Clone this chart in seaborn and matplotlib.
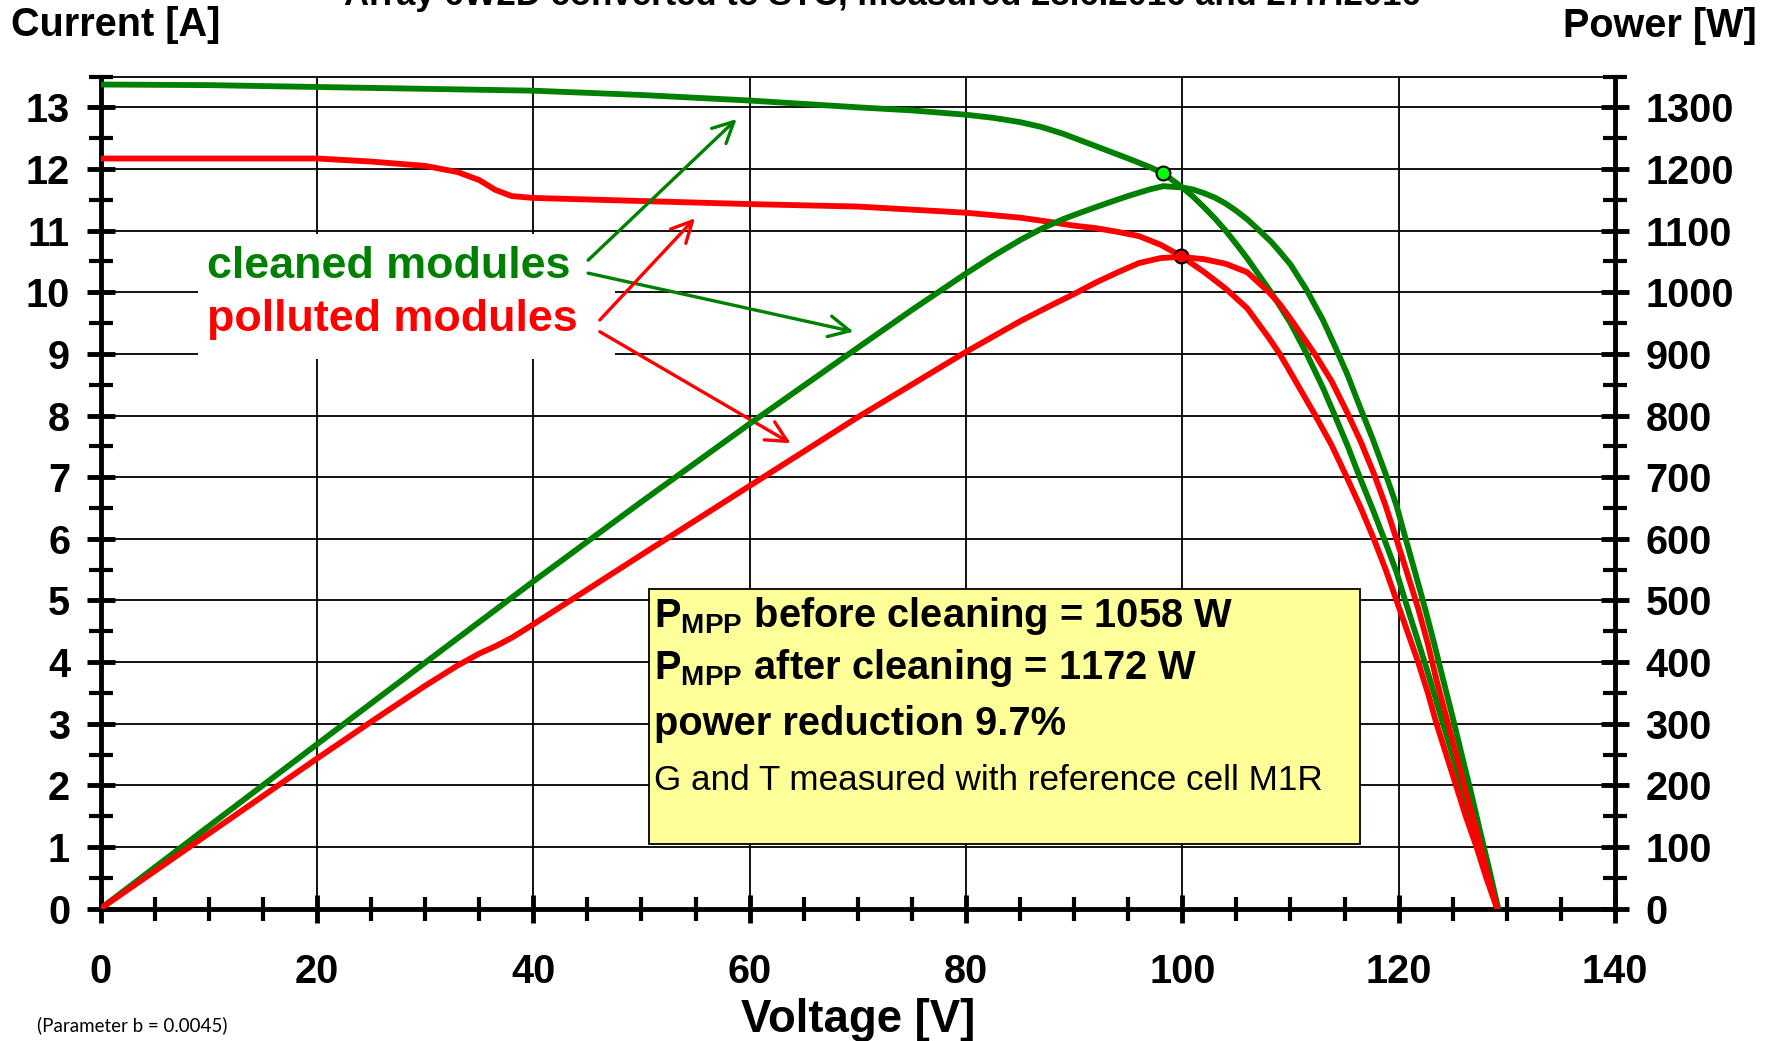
import numpy as np
import matplotlib
matplotlib.use("Agg")
import matplotlib.pyplot as plt
import seaborn as sns
from matplotlib.patches import Rectangle
from matplotlib.ticker import MultipleLocator

# cleaned modules: I-V curve (V, A)
v_clean = np.array([0, 10, 20, 30, 40, 50, 60, 70, 75, 80, 82.5, 85, 87, 89, 90.5, 92, 93.5,
                    95, 96, 97, 98.25, 99, 100, 101, 102, 103, 104, 105, 106, 107, 108.2,
                    109, 110, 111.5, 113, 114.1, 115.3, 116.4, 117.6, 118.7, 119.8, 120.6,
                    121.5, 122.4, 123.3, 124.1, 125, 125.8, 126.7, 127.5, 128.4, 129.2])
i_clean = np.array([13.37, 13.36, 13.33, 13.30, 13.27, 13.20, 13.11, 13.00, 12.95, 12.88,
                    12.83, 12.76, 12.68, 12.57, 12.47, 12.37, 12.27, 12.17, 12.10, 12.03,
                    11.93, 11.83, 11.70, 11.55, 11.38, 11.20, 11.00, 10.78, 10.55, 10.30,
                    10.00, 9.78, 9.50, 9.00, 8.45, 8.00, 7.50, 7.00, 6.48, 5.98, 5.46,
                    5.00, 4.50, 4.00, 3.48, 3.00, 2.48, 2.00, 1.48, 1.00, 0.48, 0.00])

# polluted modules
v_poll = np.array([0, 10, 20, 25, 30, 33, 35, 36.5, 38, 40, 50, 60, 70, 80, 85, 87.8, 90, 92,
                   94, 96, 98, 99.85, 102, 104, 106, 108, 109, 110, 112.3, 113.8, 115.2,
                   116.5, 117.7, 118.8, 119.8, 120.8, 121.8, 122.7, 123.5, 124.4, 125.3,
                   126.2, 127.2, 128.1, 129.1])
i_poll = np.array([12.17, 12.17, 12.17, 12.12, 12.05, 11.95, 11.82, 11.66, 11.56, 11.53,
                   11.48, 11.43, 11.39, 11.29, 11.21, 11.14, 11.08, 11.04, 10.98, 10.91,
                   10.77, 10.59, 10.33, 10.06, 9.74, 9.26, 9.00, 8.70, 8.00, 7.52, 7.00,
                   6.50, 6.00, 5.50, 5.00, 4.50, 4.00, 3.50, 3.00, 2.50, 2.00, 1.50, 1.00,
                   0.50, 0.00])

# power curves are the product of the measured voltage and current
p_clean = v_clean * i_clean
p_poll = v_poll * i_poll

box_lines = [r"P$_{MPP}$ before cleaning = 1058 W",
             r"P$_{MPP}$ after cleaning = 1172 W",
             "power reduction 9.7%",
             "G and T measured with reference cell M1R"]

GREEN = "#008000"
RED = "#ff0000"

sns.set_theme(style="white", rc={
    "axes.edgecolor": "black", "text.color": "black", "axes.labelcolor": "black",
    "xtick.color": "black", "ytick.color": "black",
})
plt.rcParams["font.family"] = ["Liberation Sans", "DejaVu Sans"]
plt.rcParams["font.weight"] = "bold"
plt.rcParams["mathtext.fontset"] = "custom"
plt.rcParams["mathtext.rm"] = "Liberation Sans:bold"
plt.rcParams["mathtext.bf"] = "Liberation Sans:bold"
plt.rcParams["mathtext.default"] = "bf"

fig = plt.figure(figsize=(17.72, 10.41), dpi=100)
ax = fig.add_axes([0.05677, 0.12718, 0.85463, 0.79933])
ax2 = ax.twinx()

# curves
sns.lineplot(x=v_clean, y=i_clean, ax=ax, color=GREEN, lw=4.2, sort=False, estimator=None, zorder=3)
sns.lineplot(x=v_poll, y=i_poll, ax=ax, color=RED, lw=4.2, sort=False, estimator=None, zorder=3)
k_c = int(np.argmax(p_clean))
k_p = int(np.argmax(p_poll))
ax.plot(v_clean[k_c], i_clean[k_c], "o", ms=10, mfc="#00ff00", mec="black", mew=1.5, zorder=6)
ax.plot(v_poll[k_p], i_poll[k_p], "o", ms=10, mfc=RED, mec="black", mew=1.5, zorder=6)

sns.lineplot(x=v_clean, y=p_clean, ax=ax2, color=GREEN, lw=4.2, sort=False, estimator=None)
sns.lineplot(x=v_poll, y=p_poll, ax=ax2, color=RED, lw=4.2, sort=False, estimator=None)

# axes
ax.set_xlim(0, 140)
ax.set_ylim(0, 13.5)
ax2.set_ylim(0, 1350)
ax.set_xlabel("")
ax.set_ylabel("")
ax2.set_ylabel("")
ax.xaxis.set_major_locator(MultipleLocator(20))
ax.xaxis.set_minor_locator(MultipleLocator(5))
ax.yaxis.set_major_locator(MultipleLocator(1))
ax.yaxis.set_minor_locator(MultipleLocator(0.5))
ax2.yaxis.set_major_locator(MultipleLocator(100))
ax2.yaxis.set_minor_locator(MultipleLocator(50))

ax.set_axisbelow(True)
ax.grid(True, which="major", color="black", lw=1.3)
ax2.grid(False)

for s in ["left", "bottom"]:
    ax.spines[s].set_linewidth(3.5)
ax.spines["top"].set_linewidth(1.3)
ax.spines["right"].set_visible(False)
for s in ["left", "top", "bottom"]:
    ax2.spines[s].set_visible(False)
ax2.spines["right"].set_linewidth(3.5)

ax.tick_params(axis="x", which="major", direction="inout", length=20, width=3.5, pad=22,
               labelsize=28.5, bottom=True, top=False)
ax.tick_params(axis="x", which="minor", direction="inout", length=17, width=3, bottom=True, top=False)
ax.tick_params(axis="y", which="major", direction="inout", length=20, width=3.5, pad=12,
               labelsize=28.5, left=True, right=False)
ax.tick_params(axis="y", which="minor", direction="inout", length=17, width=3, left=True, right=False)
ax2.tick_params(axis="y", which="major", direction="inout", length=20, width=3.5, pad=12,
                labelsize=28.5, right=True, left=False)
ax2.tick_params(axis="y", which="minor", direction="inout", length=17, width=3, right=True, left=False)

# curve labels with arrows
ax.add_patch(Rectangle((9.0, 8.92), 38.6, 2.02, fc="white", ec="none", zorder=2))
ax.text(9.87, 10.23, "cleaned modules", color=GREEN, fontsize=32.3, va="baseline", zorder=4)
ax.text(9.87, 9.37, "polluted modules", color=RED, fontsize=32.3, va="baseline", zorder=4)
arrows = [((45.07, 10.52), (58.8, 12.81), GREEN), ((45.07, 10.31), (69.6, 9.36), GREEN),
          ((46.15, 9.55), (54.95, 11.20), RED), ((46.15, 9.36), (63.79, 7.55), RED)]
for start, end, col in arrows:
    ax.annotate("", xy=end, xytext=start, zorder=4,
                arrowprops=dict(arrowstyle="->,head_length=0.5,head_width=0.25", color=col,
                                lw=2.4, mutation_scale=30, shrinkA=0, shrinkB=0))

# result box
ax2.add_patch(Rectangle((50.66, 105), 65.8, 414, fc="#ffff99", ec="black", lw=1.3, zorder=5))
for txt, yy in zip(box_lines[:3], [457, 372, 282]):
    ax2.text(51.2, yy, txt, fontsize=28.7, va="baseline", zorder=6)
ax2.text(51.2, 192, box_lines[3], fontsize=25.3, fontweight="normal", va="baseline", zorder=6)

# outer labels
fig.text(0.498, 1 - 5 / 1041, "Array 6W2D converted to STC, measured 28.6.2016 and 27.7.2016",
         ha="center", va="baseline", fontsize=25)
fig.text(11 / 1772, 1 - 36 / 1041, "Current [A]", ha="left", va="baseline", fontsize=28.5)
fig.text(1757 / 1772, 1 - 37 / 1041, "Power [W]", ha="right", va="baseline", fontsize=28.5)
fig.text(858 / 1772, 1 - 1032 / 1041, "Voltage [V]", ha="center", va="baseline", fontsize=32.8)
fig.text(37 / 1772, 1 - 1031 / 1041, "(Parameter b = 0.0045)", ha="left", va="baseline",
         fontsize=13.5, fontweight="normal", family=["Lato", "DejaVu Sans"])

fig.savefig("out.png", dpi=100)
